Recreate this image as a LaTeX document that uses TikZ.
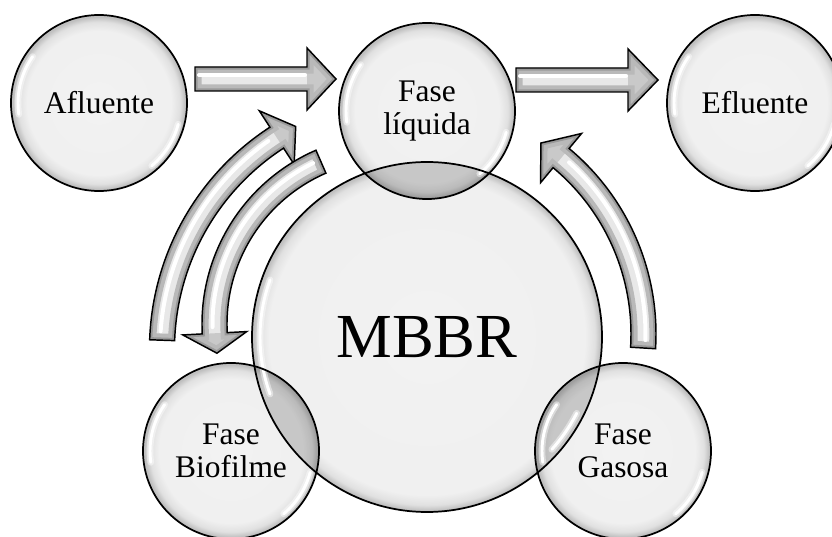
\documentclass[tikz,border=0pt]{standalone}
\usepackage{fontspec}
\setmainfont{Liberation Serif}

\pgfdeclarelayer{back}
\pgfsetlayers{back,main}

% glossy bubble fills: flat light core, darker rim just inside the border
\pgfdeclareradialshading{smallbubble}{\pgfpointorigin}{color(0bp)=(gray!10); color(20.5bp)=(gray!12); color(23bp)=(gray!24); color(24.6bp)=(gray!52); color(25bp)=(gray!45); color(50bp)=(gray!45)}
\pgfdeclareradialshading{largebubble}{\pgfpointorigin}{color(0bp)=(gray!10); color(22.6bp)=(gray!12); color(24bp)=(gray!24); color(24.8bp)=(gray!50); color(25bp)=(gray!45); color(50bp)=(gray!45)}

\tikzset{
  bubble/.style={circle, inner sep=0pt, minimum size=132pt, align=center,
    font=\fontsize{23.6}{24.8}\selectfont},
  bigbubble/.style={circle, inner sep=0pt, minimum size=262.5pt,
    font=\fontsize{47}{50}\selectfont},
  rim/.style={draw=black, line width=1.3pt},
  glint/.style={white, line width=2.2pt, line cap=round},
  softglint/.style={white, line width=5pt, line cap=round, opacity=.45},
  lens/.style={fill=black, fill opacity=.17},
  arrowface/.style={fill=gray!18},
  headface/.style={fill=gray!42},
  arrowline/.style={draw=black, line width=1.1pt, line join=miter, miter limit=20},
}

% bevelled block arrow: #1 outline, #2 highlight stroke, #3 head triangle
\newcommand\bevelarrow[3]{%
  \fill[arrowface] #1;
  \fill[headface] #3;
  \begin{scope}
    \clip #1;
    \draw[gray!55, line width=10pt, line join=miter] #1;
    \draw[gray!80, line width=4pt, line join=miter] #1;
    \draw[white, line width=3pt, line cap=round] #2;
  \end{scope}
  \draw[arrowline] #1;
}

% gloss streak on a bubble: centre, radius, start and end angle
\newcommand\gloss[4]{%
  \draw[softglint] (#1) ++(#3:#2) arc[start angle=#3, end angle=#4, radius=#2];
  \draw[glint] (#1) ++(#3:#2) arc[start angle=#3, end angle=#4, radius=#2];
}

\begin{document}
\begin{tikzpicture}[x=0.75pt, y=0.75pt]
\useasboundingbox (0,0) rectangle (832,536);

% phases
\node[bubble] (afl) at (99,433) {Afluente};
\node[bubble] (liq) at (427,425) {Fase\\líquida};
\node[bubble] (efl) at (755,433) {Efluente};
\node[bigbubble] (mbbr) at (427,199) {MBBR};
\node[bubble] (bio) at (231,85) {Fase\\Biofilme};
\node[bubble] (gas) at (623,85) {Fase\\Gasosa};

\begin{pgfonlayer}{back}
  \fill[white] (0,0) rectangle (832,536);

  % inflow and outflow
  \bevelarrow{(195,469) -- (307,469) -- (307,488) -- (336,457) -- (307,426) -- (307,445) -- (195,445) -- cycle}
             {(199,461) -- (305,461)}
             {(307,488) -- (336,457) -- (307,426) -- cycle}
  \bevelarrow{(516,468) -- (628,468) -- (628,487) -- (658,456) -- (628,425) -- (628,444) -- (516,444) -- cycle}
             {(520,460) -- (626,460)}
             {(628,487) -- (658,456) -- (628,425) -- cycle}

  % biofilm -> liquid
  \bevelarrow{([shift={(414,187)}]178:264.5) arc[start angle=178, end angle=123, radius=264.5]
      -- ([shift={(414,187)}]123:284) -- ([shift={(414,187)}]118:252)
      -- ([shift={(414,187)}]123:220) -- ([shift={(414,187)}]123:239.5)
      arc[start angle=123, end angle=178, radius=239.5] -- cycle}
    {([shift={(414,187)}]176:254) arc[start angle=176, end angle=125, radius=254]}
    {([shift={(414,187)}]123:284) -- ([shift={(414,187)}]118:252) -- ([shift={(414,187)}]123:220) -- cycle}

  % liquid -> biofilm
  \bevelarrow{([shift={(391.5,212)}]113.5:189.5) arc[start angle=113.5, end angle=183, radius=189.5]
      -- ([shift={(391.5,212)}]183:209) -- ([shift={(391.5,212)}]189.5:177)
      -- ([shift={(391.5,212)}]183:145) -- ([shift={(391.5,212)}]183:164.5)
      arc[start angle=183, end angle=113.5, radius=164.5] -- cycle}
    {([shift={(391.5,212)}]116:179) arc[start angle=116, end angle=181, radius=179]}
    {([shift={(391.5,212)}]183:209) -- ([shift={(391.5,212)}]189.5:177) -- ([shift={(391.5,212)}]183:145) -- cycle}

  % gas -> liquid
  \bevelarrow{([shift={(414.5,202)}]-3.5:241.5) arc[start angle=-3.5, end angle=50.2, radius=241.5]
      -- ([shift={(414.5,202)}]50.2:261) -- ([shift={(414.5,202)}]56.5:229)
      -- ([shift={(414.5,202)}]50.2:197) -- ([shift={(414.5,202)}]50.2:216.5)
      arc[start angle=50.2, end angle=-3.5, radius=216.5] -- cycle}
    {([shift={(414.5,202)}]-1.5:231) arc[start angle=-1.5, end angle=48, radius=231]}
    {([shift={(414.5,202)}]50.2:261) -- ([shift={(414.5,202)}]56.5:229) -- ([shift={(414.5,202)}]50.2:197) -- cycle}

  % bubble bodies
  \shade[shading=largebubble] (mbbr.center) circle[radius=175];
  \foreach \n in {afl,liq,efl,bio,gas}
    \shade[shading=smallbubble] (\n.center) circle[radius=88];

  % overlaps with the reactor
  \begin{scope}
    \clip (mbbr.center) circle[radius=175];
    \fill[lens] (liq.center) circle[radius=88];
    \fill[lens] (bio.center) circle[radius=88];
    \fill[lens] (gas.center) circle[radius=88];
  \end{scope}

  % gloss streaks
  \gloss{mbbr.center}{167}{160}{200}
  \gloss{mbbr.center}{168}{-27}{-42}
  \foreach \n in {afl,liq,efl,bio,gas}{
    \gloss{\n.center}{81}{145}{188}
    \gloss{\n.center}{82}{-15}{-50}
  }

  % outlines
  \draw[rim] (mbbr.center) circle[radius=175];
  \foreach \n in {afl,liq,efl,bio,gas}
    \draw[rim] (\n.center) circle[radius=88];
\end{pgfonlayer}
\end{tikzpicture}
\end{document}
